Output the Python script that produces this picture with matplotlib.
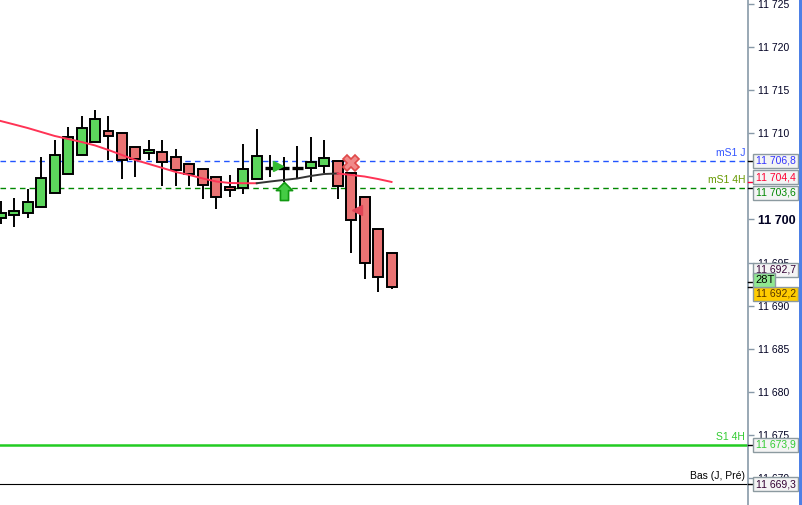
import matplotlib.pyplot as plt
from matplotlib.patches import Rectangle
from matplotlib.path import Path
import numpy as np

plt.rcParams['font.family'] = ['Liberation Sans', 'DejaVu Sans']

# candles (open, high, low, close), one per bar, left to right
opens = [11700.14, 11700.49, 11700.75, 11701.45, 11703.07, 11705.27, 11707.47, 11708.98,
         11710.25, 11710.02, 11708.40, 11707.71, 11707.82, 11707.24, 11706.43, 11705.85,
         11704.92, 11703.77, 11703.65, 11704.69, 11705.97, 11705.97, 11705.97, 11705.97,
         11706.20, 11706.78, 11705.39, 11702.61, 11698.90, 11696.12]
highs = [11702.14, 11702.49, 11703.53, 11707.24, 11709.21, 11710.72, 11711.99, 11712.69,
         11711.99, 11710.02, 11708.40, 11709.21, 11709.21, 11708.17, 11706.43, 11705.85,
         11704.92, 11705.16, 11708.75, 11710.49, 11707.47, 11707.24, 11708.52, 11709.56,
         11709.21, 11706.78, 11705.39, 11702.61, 11698.90, 11696.12]
lows = [11699.48, 11699.13, 11700.17, 11701.45, 11703.07, 11705.27, 11707.47, 11708.98,
        11706.89, 11704.69, 11704.92, 11706.89, 11703.88, 11703.88, 11703.88, 11702.38,
        11701.22, 11702.61, 11702.95, 11704.69, 11704.92, 11704.35, 11704.69, 11704.35,
        11705.39, 11702.38, 11696.12, 11693.11, 11691.60, 11691.96]
closes = [11700.72, 11701.02, 11702.03, 11704.81, 11707.47, 11709.56, 11710.60, 11711.65,
          11709.68, 11706.89, 11707.01, 11708.05, 11706.66, 11705.74, 11705.27, 11704.00,
          11702.61, 11703.42, 11705.85, 11707.36, 11705.97, 11705.97, 11705.97, 11706.66,
          11707.13, 11703.88, 11699.94, 11694.96, 11693.34, 11692.20]

# moving average, per bar
ma = [11711.41, 11711.01, 11710.60, 11710.14, 11709.68, 11709.33, 11708.98, 11708.58,
      11708.05, 11707.47, 11706.89, 11706.43, 11705.97, 11705.50, 11705.16, 11704.75,
      11704.40, 11704.23, 11704.20, 11704.20, 11704.40, 11704.58, 11704.75, 11705.04,
      11705.27, 11705.33, 11705.16, 11704.98, 11704.69, 11704.35]
ma_black = (19, 25)  # bars where the average is drawn black

# horizontal levels
level_names = ['mS1 J', 'mS1 4H', 'S1 4H', 'Bas (J, Pré)']
level_values = [11706.8, 11703.6, 11673.9, 11669.3]

# price boxes on the right axis
box_values = [11706.8, 11704.4, 11703.6, 11692.7, 11692.2, 11673.9, 11669.3]
box_texts = ['11 706,8', '11 704,4', '11 703,6', '11 692,7', '11 692,2', '11 673,9', '11 669,3']
tag_value, tag_text = 11692.95, '28T'

# signal markers: bar position, price
sig_x_mark = (26, 11706.55)
sig_right_tri = (20.55, 11706.2)
sig_up_arrow = (21, 11703.3)
sig_left_tri = (26.45, 11701.1)

yticks = [11670, 11675, 11680, 11685, 11690, 11695, 11700, 11705, 11710, 11715, 11720, 11725]

# styles
level_styles = [('#2255ff', '#3355ff', '--', 1.0), ('#008800', '#669900', '--', 1.0),
                ('#22cc22', '#33cc33', '-', 1.8), ('#000000', '#000000', '-', 0.8)]
box_styles = [('#3333ff', '#f4f4f4', 0), ('#ff0033', '#f4f4f4', -4.5),
              ('#008800', '#f4f4f4', 4.5), ('#330033', '#f4f4f4', -12.5),
              ('#553300', '#ffcc00', 7), ('#33cc33', '#f4f4f4', 0),
              ('#330033', '#f4f4f4', 0)]  # text colour, background, shift in px (down +)

fig = plt.figure(figsize=(8.03, 5.05), dpi=100)
ax = fig.add_axes([0, 0, 748 / 803, 1])
ax.set_xlim(-0.05, 55.45)
ax.set_ylim(11666.92, 11725.43)

green_up = '#5cd65c'
red_dn = '#ea7373'
w = 0.74
x = np.arange(len(opens))
for i in x:
    o, h, l, c = opens[i], highs[i], lows[i], closes[i]
    top, bot = max(o, c), min(o, c)
    ax.plot([i, i], [l, h], color='black', lw=1.4, zorder=3, solid_capstyle='butt')
    if abs(c - o) < 0.05:
        ax.plot([i - w / 2 - 0.05, i + w / 2 + 0.05], [o, o], color='black', lw=2.4, zorder=4,
                solid_capstyle='butt')
        continue
    col = green_up if c > o else red_dn
    ax.add_patch(Rectangle((i - w / 2, bot), w, top - bot, facecolor=col,
                           edgecolor='black', lw=1.4, zorder=4))

# moving average
a, b = ma_black
ax.plot(x[:a + 1], ma[:a + 1], color='#ff3355', lw=1.4, zorder=5)
ax.plot(x[a:b + 1], ma[a:b + 1], color='#333333', lw=1.4, zorder=5)
ax.plot(x[b:], ma[b:], color='#ff3355', lw=1.4, zorder=5)

# levels
for name, val, (lc, tc, ls, lw) in zip(level_names, level_values, level_styles):
    if ls == '--':
        ax.axhline(val, color=lc, lw=lw, ls=(0, (4, 3)), zorder=2)
    else:
        ax.axhline(val, color=lc, lw=lw, zorder=2)
    ax.text(0.996, val + 0.35, name, transform=ax.get_yaxis_transform(), ha='right',
            va='bottom', fontsize=7.5, color=tc)

# markers
ax.plot(*sig_x_mark, marker='X', ms=12, mfc='#f08a8a', mec='#e04a4a', mew=1.2, zorder=6)
ax.plot(*sig_right_tri, marker='>', ms=7, mfc='#33bb33', mec='#33bb33', zorder=6)
ax.plot(*sig_left_tri, marker='<', ms=7, mfc='#e04455', mec='#e04455', zorder=6)
arrow = Path([(0, 1), (0.9, 0.1), (0.45, 0.1), (0.45, -1), (-0.45, -1), (-0.45, 0.1),
              (-0.9, 0.1), (0, 1)])
ax.plot(*sig_up_arrow, marker=arrow, ms=13, mfc='#44cc44', mec='#119911', mew=1.2, zorder=6)

# right axis
ax.yaxis.tick_right()
ax.set_yticks(yticks)
ax.set_yticklabels([f'{t:,}'.replace(',', ' ') for t in yticks])
ax.tick_params(axis='y', direction='out', length=4, width=1, color='#8899a8',
               labelsize=7.5, labelcolor='#000022', pad=3)
for lab in ax.get_yticklabels():
    if lab.get_text() == '11 700':
        lab.set_fontweight('bold')
        lab.set_fontsize(9)
ax.set_xticks([])
for s in ['left', 'top', 'bottom']:
    ax.spines[s].set_visible(False)
ax.spines['right'].set_color('#8899a8')
ax.spines['right'].set_linewidth(1.2)

trans = ax.get_yaxis_transform()
px = 1 / 748
unit = (ax.get_ylim()[1] - ax.get_ylim()[0]) / 505
bh = 14 * unit
for val, txt, (tc, bg, shift) in zip(box_values, box_texts, box_styles):
    tick_col = '#ff0033' if tc == '#ff0033' else 'black'
    ax.plot([1.0, 1 + 5 * px], [val, val], transform=trans, color=tick_col, lw=1,
            clip_on=False, zorder=7)
    yc = val - shift * unit
    ax.add_patch(Rectangle((1 + 5 * px, yc - bh / 2), 45 * px, bh, transform=trans,
                           facecolor=bg, edgecolor='#8c9aa0', lw=1, clip_on=False, zorder=8))
    ax.text(1 + 8 * px, yc, txt, transform=trans, ha='left', va='center', fontsize=7.5,
            color=tc, clip_on=False, zorder=9)

ax.add_patch(Rectangle((1 + 5 * px, tag_value - bh / 2), 22 * px, bh, transform=trans,
                       facecolor='#90e890', edgecolor='#8c9aa0', lw=1, clip_on=False, zorder=10))
ax.text(1 + 7 * px, tag_value, tag_text, transform=trans, ha='left', va='center',
        fontsize=8, color='black', clip_on=False, zorder=11)

# blue stripe on the right edge
fig.patches.append(Rectangle((799 / 803, 0), 4 / 803, 1, transform=fig.transFigure,
                             facecolor='#4d80e6', edgecolor='none'))

fig.savefig('out.png', dpi=100)
